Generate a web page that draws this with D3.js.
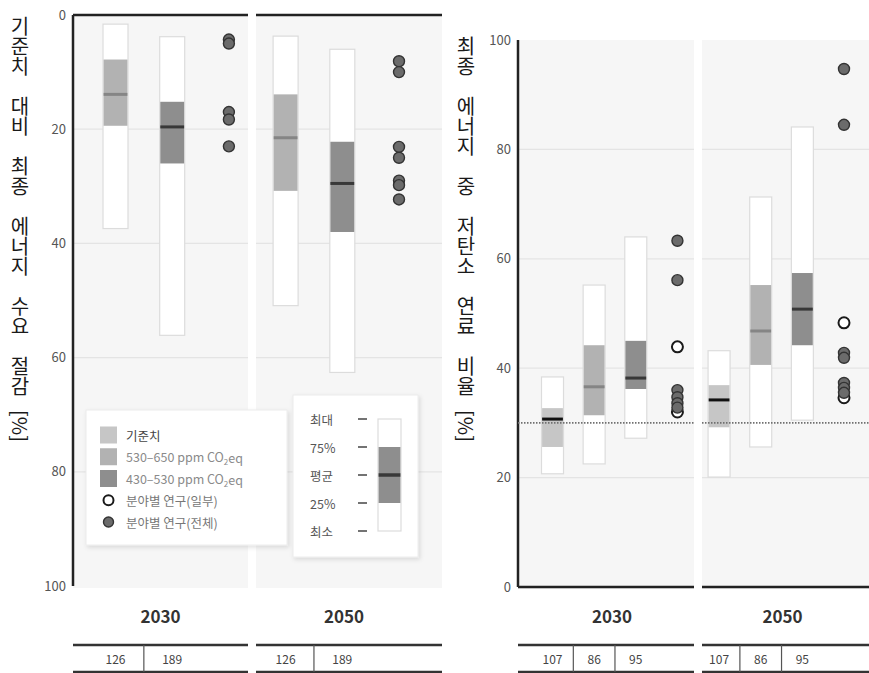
<!DOCTYPE html>
<html>
<head>
<meta charset="utf-8">
<script src="https://cdn.jsdelivr.net/npm/d3@7"></script>
<style>
  body { margin: 0; background: #fff; }
  svg { display: block; font-family: "Noto Sans CJK KR", "Noto Sans", sans-serif; }
  .vtitle { writing-mode: vertical-rl; text-orientation: upright; }
</style>
</head>
<body>
<div id="chart"></div>
<script>
// ---- data ----
var years = ["2030", "2050"];
var yTicks = [0, 20, 40, 60, 80, 100];

// left panel: reduction of final energy demand vs baseline [%]
var leftYear = ["2030", "2030", "2050", "2050"];
var leftN    = ["126", "189", "126", "189"];
var leftScen = ["530-650", "430-530", "530-650", "430-530"];
var leftMin  = [1.6, 3.8, 3.7, 6.0];
var leftQ1   = [7.8, 15.2, 13.9, 22.2];
var leftMed  = [13.9, 19.6, 21.5, 29.5];
var leftQ3   = [19.4, 26.0, 30.8, 38.0];
var leftMax  = [37.4, 56.1, 50.9, 62.6];
var leftDotYear = ["2030", "2030", "2030", "2030", "2030", "2050", "2050", "2050", "2050", "2050", "2050", "2050"];
var leftDotVal  = [4.3, 5.0, 17.0, 18.3, 23.0, 8.1, 10.0, 23.1, 25.0, 29.0, 29.8, 32.3];
var leftDotOpen = [0, 0, 0, 0, 0, 0, 0, 0, 0, 0, 0, 0];

// right panel: share of low-carbon fuels in final energy [%]
var rightYear = ["2030", "2030", "2030", "2050", "2050", "2050"];
var rightN    = ["107", "86", "95", "107", "86", "95"];
var rightScen = ["base", "530-650", "430-530", "base", "530-650", "430-530"];
var rightMin  = [20.7, 22.5, 27.2, 20.1, 25.6, 30.5];
var rightQ1   = [25.6, 31.4, 36.2, 29.2, 40.6, 44.2];
var rightMed  = [30.7, 36.6, 38.2, 34.2, 46.8, 50.8];
var rightQ3   = [32.7, 44.2, 45.0, 36.9, 55.2, 57.4];
var rightMax  = [38.4, 55.2, 64.0, 43.2, 71.3, 84.1];
var rightDotYear = ["2030", "2030", "2030", "2030", "2030", "2030", "2030", "2030",
                    "2050", "2050", "2050", "2050", "2050", "2050", "2050", "2050", "2050"];
var rightDotVal  = [43.9, 32.0, 63.3, 56.1, 36.0, 34.7, 33.6, 32.8,
                    48.3, 34.6, 94.7, 84.5, 42.8, 41.9, 37.3, 36.4, 35.5];
var rightDotOpen = [1, 1, 0, 0, 0, 0, 0, 0,
                    1, 1, 0, 0, 0, 0, 0, 0, 0];
var rightRef = 30; // dotted reference line

var leftTitle  = "기준치 대비 최종 에너지 수요 절감 ";
var rightTitle = "최종 에너지 중 저탄소 연료 비율 ";

var legendKeys  = ["base", "530-650", "430-530"];
var legendNames = ["기준치", "530–650 ppm CO", "430–530 ppm CO"];
var dotNames    = ["분야별 연구(일부)", "분야별 연구(전체)"];
var boxKeyLabels = ["최대", "75%", "평균", "25%", "최소"];

// ---- styles ----
var fillColor = { "base": "#c6c6c6", "530-650": "#b2b2b2", "430-530": "#8e8e8e" };
var medColor  = { "base": "#111", "530-650": "#858585", "430-530": "#383838" };

var width = 869, height = 673;
var svg = d3.select("#chart").append("svg")
  .attr("width", width)
  .attr("height", height);

var defs = svg.append("defs");
var sh = defs.append("filter").attr("id", "shadow").attr("x", "-10%").attr("y", "-10%")
  .attr("width", "130%").attr("height", "130%");
sh.append("feDropShadow").attr("dx", 1.5).attr("dy", 2).attr("stdDeviation", 2)
  .attr("flood-color", "#000").attr("flood-opacity", 0.12);

///////////////////////////////////////////////////////////////////////////
// one panel
///////////////////////////////////////////////////////////////////////////
function drawPanel(p) {
  var g = svg.append("g");

  // slots: bars then a dot column, per year
  var slots = [];
  years.forEach(function(yr) {
    for (var i = 0; i < p.perYear; i++) slots.push(yr + "-" + i);
    slots.push(yr + "-d");
  });
  var x = d3.scalePoint().domain(slots).range(p.slotRange);
  var y = d3.scaleLinear().domain([0, 100]).range(p.yRange);

  // group backgrounds
  years.forEach(function(yr, k) {
    var ext = p.groups[k];
    g.append("rect")
      .attr("x", ext[0]).attr("y", d3.min(p.yRange))
      .attr("width", ext[1] - ext[0])
      .attr("height", Math.abs(p.yRange[1] - p.yRange[0]) + 2)
      .attr("fill", "#f6f6f6");
    // grid
    g.selectAll(null).data([20, 40, 60, 80]).enter().append("line")
      .attr("x1", ext[0]).attr("x2", ext[1])
      .attr("y1", function(d) { return y(d); })
      .attr("y2", function(d) { return y(d); })
      .attr("stroke", "#e4e4e4").attr("stroke-width", 1.2);
    // thick frame line (top for left, bottom for right)
    g.append("line")
      .attr("x1", ext[0]).attr("x2", ext[1])
      .attr("y1", y(p.frameAt)).attr("y2", y(p.frameAt))
      .attr("stroke", "#222").attr("stroke-width", 2.5);
  });

  // axis
  var axis = d3.axisLeft(y).tickValues(yTicks).tickSize(0).tickPadding(7);
  var ax = g.append("g").attr("transform", "translate(" + p.axisX + ",0)").call(axis);
  ax.select(".domain").remove();
  ax.selectAll("text").attr("font-size", 13).attr("fill", "#555")
    .attr("font-family", "'Noto Sans CJK KR', sans-serif");
  g.append("line")
    .attr("x1", p.axisX).attr("x2", p.axisX)
    .attr("y1", p.yRange[0]).attr("y2", p.yRange[1])
    .attr("stroke", "#222").attr("stroke-width", 2.5);

  // bars
  var bars = p.year.map(function(yr, i) {
    var idx = p.year.slice(0, i).filter(function(v) { return v === yr; }).length;
    return { slot: yr + "-" + idx, scen: p.scen[i], n: p.n[i],
             min: p.min[i], q1: p.q1[i], med: p.med[i], q3: p.q3[i], max: p.max[i] };
  });
  var bw = p.barW;
  var bg = g.selectAll(".bar").data(bars).enter().append("g").attr("class", "bar");
  bg.append("rect")
    .attr("x", function(d) { return x(d.slot) - bw / 2; })
    .attr("y", function(d) { return Math.min(y(d.min), y(d.max)); })
    .attr("width", bw)
    .attr("height", function(d) { return Math.abs(y(d.max) - y(d.min)); })
    .attr("fill", "#fff").attr("stroke", "#dcdcdc").attr("stroke-width", 1.2);
  bg.append("rect")
    .attr("x", function(d) { return x(d.slot) - bw / 2 + 0.6; })
    .attr("y", function(d) { return Math.min(y(d.q1), y(d.q3)); })
    .attr("width", bw - 1.2)
    .attr("height", function(d) { return Math.abs(y(d.q3) - y(d.q1)); })
    .attr("fill", function(d) { return fillColor[d.scen]; });
  bg.append("line")
    .attr("x1", function(d) { return x(d.slot) - bw / 2 + 0.6; })
    .attr("x2", function(d) { return x(d.slot) + bw / 2 - 0.6; })
    .attr("y1", function(d) { return y(d.med); })
    .attr("y2", function(d) { return y(d.med); })
    .attr("stroke", function(d) { return medColor[d.scen]; })
    .attr("stroke-width", 3);

  // dotted reference line runs over the bars
  if (p.ref != null) {
    p.groups.forEach(function(ext) {
      g.append("line")
        .attr("x1", ext[0]).attr("x2", ext[1])
        .attr("y1", y(p.ref)).attr("y2", y(p.ref))
        .attr("stroke", "#707070").attr("stroke-width", 1.8)
        .attr("stroke-dasharray", "1.5,1.5");
    });
  }

  // dots
  var dots = p.dotVal.map(function(v, i) {
    return { slot: p.dotYear[i] + "-d", v: v, open: p.dotOpen[i] };
  });
  g.selectAll(".dot").data(dots).enter().append("circle")
    .attr("class", "dot")
    .attr("cx", function(d) { return x(d.slot); })
    .attr("cy", function(d) { return y(d.v); })
    .attr("r", 5.5)
    .attr("fill", function(d) { return d.open ? "#fff" : "#6b6b6b"; })
    .attr("stroke", function(d) { return d.open ? "#1a1a1a" : "#333"; })
    .attr("stroke-width", function(d) { return d.open ? 2 : 1.4; });

  // year labels
  years.forEach(function(yr, k) {
    var ext = p.groups[k];
    g.append("text")
      .attr("x", (ext[0] + ext[1]) / 2 + p.yearShift[k]).attr("y", 623)
      .attr("text-anchor", "middle")
      .attr("font-size", 17).attr("font-weight", "bold").attr("fill", "#333")
      .text(yr);
    // table
    g.append("line").attr("x1", ext[0]).attr("x2", ext[1])
      .attr("y1", 645).attr("y2", 645).attr("stroke", "#333").attr("stroke-width", 2.5);
    g.append("line").attr("x1", ext[0]).attr("x2", ext[1])
      .attr("y1", 672).attr("y2", 672).attr("stroke", "#333").attr("stroke-width", 2.5);
  });
  bars.forEach(function(d, i) {
    g.append("text")
      .attr("x", x(d.slot)).attr("y", 664)
      .attr("text-anchor", "middle")
      .attr("font-size", 12).attr("fill", "#444")
      .text(d.n);
    var nxt = bars[i + 1];
    if (nxt && nxt.slot.slice(0, 4) === d.slot.slice(0, 4)) {
      var mx = (x(d.slot) + x(nxt.slot)) / 2;
      g.append("line").attr("x1", mx).attr("x2", mx)
        .attr("y1", 645).attr("y2", 672).attr("stroke", "#555").attr("stroke-width", 1.2);
    }
  });

  // vertical title: each word is one upright vertical text
  var chars = Array.from(p.title);
  var pos = 0;
  p.title.split(" ").forEach(function(w) {
    if (w.length) {
      g.append("text").attr("class", "vtitle")
        .attr("x", p.titleX).attr("y", p.titleY - 10 + pos * 20)
        .attr("font-size", 20).attr("fill", "#1a1a1a")
        .text(w);
    }
    pos += Array.from(w).length + 1;
  });
  g.append("text")
    .attr("transform", "translate(" + p.titleX + "," + (p.titleY + chars.length * 20) + ") rotate(90)")
    .attr("text-anchor", "middle").attr("dominant-baseline", "central")
    .attr("font-size", 20).attr("fill", "#1a1a1a")
    .text("[%]");

  return { x: x, y: y, g: g };
}

var left = drawPanel({
  perYear: 2, slotRange: [115.5, 399], yRange: [15, 586], groups: [[73, 248], [256, 442]],
  axisX: 73, frameAt: 0, ref: null, barW: 25, yearShift: [0, -5],
  year: leftYear, n: leftN, scen: leftScen, min: leftMin, q1: leftQ1, med: leftMed, q3: leftQ3, max: leftMax,
  dotYear: leftDotYear, dotVal: leftDotVal, dotOpen: leftDotOpen,
  title: leftTitle, titleX: 20, titleY: 26
});

var right = drawPanel({
  perYear: 3, slotRange: [552.5, 844], yRange: [587, 40], groups: [[518, 694], [702, 869]],
  axisX: 518, frameAt: 0, ref: rightRef, barW: 22, yearShift: [6, -3],
  year: rightYear, n: rightN, scen: rightScen, min: rightMin, q1: rightQ1, med: rightMed, q3: rightQ3, max: rightMax,
  dotYear: rightDotYear, dotVal: rightDotVal, dotOpen: rightDotOpen,
  title: rightTitle, titleX: 466, titleY: 46
});

///////////////////////////////////////////////////////////////////////////
// legends (inside left panel)
///////////////////////////////////////////////////////////////////////////
var lg = svg.append("g");
lg.append("rect").attr("x", 86).attr("y", 410).attr("width", 201).attr("height", 135)
  .attr("fill", "#fff").attr("stroke", "#ececec").attr("filter", "url(#shadow)");
var rowY = d3.scalePoint().domain(d3.range(5)).range([435, 522]);
legendKeys.forEach(function(k, i) {
  lg.append("rect").attr("x", 100).attr("y", rowY(i) - 8.5).attr("width", 17).attr("height", 17)
    .attr("fill", fillColor[k]);
  var t = lg.append("text").attr("x", 126).attr("y", rowY(i)).attr("dominant-baseline", "central")
    .attr("font-size", 12.5).attr("fill", i === 0 ? "#444" : "#8a8a8a").text(legendNames[i]);
  if (i > 0) {
    t.append("tspan").attr("font-size", 8).attr("dy", 4).text("2");
    t.append("tspan").attr("dy", -4).text("eq");
  }
});
dotNames.forEach(function(name, j) {
  var yy = rowY(3 + j);
  lg.append("circle").attr("cx", 108.5).attr("cy", yy).attr("r", 5)
    .attr("fill", j === 0 ? "#fff" : "#6b6b6b")
    .attr("stroke", j === 0 ? "#1a1a1a" : "#333").attr("stroke-width", j === 0 ? 2 : 1.4);
  lg.append("text").attr("x", 126).attr("y", yy).attr("dominant-baseline", "central")
    .attr("font-size", 12.5).attr("fill", "#777").text(name);
});

// box explanation
lg.append("rect").attr("x", 293).attr("y", 395).attr("width", 125).attr("height", 162)
  .attr("fill", "#fff").attr("stroke", "#ececec").attr("filter", "url(#shadow)");
var keyY = d3.scalePoint().domain(boxKeyLabels).range([419, 531]);
boxKeyLabels.forEach(function(l) {
  lg.append("text").attr("x", 310).attr("y", keyY(l)).attr("dominant-baseline", "central")
    .attr("font-size", 12.5).attr("fill", "#555").text(l);
  lg.append("line").attr("x1", 358).attr("x2", 367).attr("y1", keyY(l)).attr("y2", keyY(l))
    .attr("stroke", "#444").attr("stroke-width", 1.5);
});
lg.append("rect").attr("x", 378).attr("y", keyY("최대")).attr("width", 23)
  .attr("height", keyY("최소") - keyY("최대"))
  .attr("fill", "#fff").attr("stroke", "#dcdcdc").attr("stroke-width", 1.2);
lg.append("rect").attr("x", 378.6).attr("y", keyY("75%")).attr("width", 21.8)
  .attr("height", keyY("25%") - keyY("75%")).attr("fill", fillColor["430-530"]);
lg.append("line").attr("x1", 378.6).attr("x2", 400.4).attr("y1", keyY("평균")).attr("y2", keyY("평균"))
  .attr("stroke", "#383838").attr("stroke-width", 3.5);
</script>
</body>
</html>
